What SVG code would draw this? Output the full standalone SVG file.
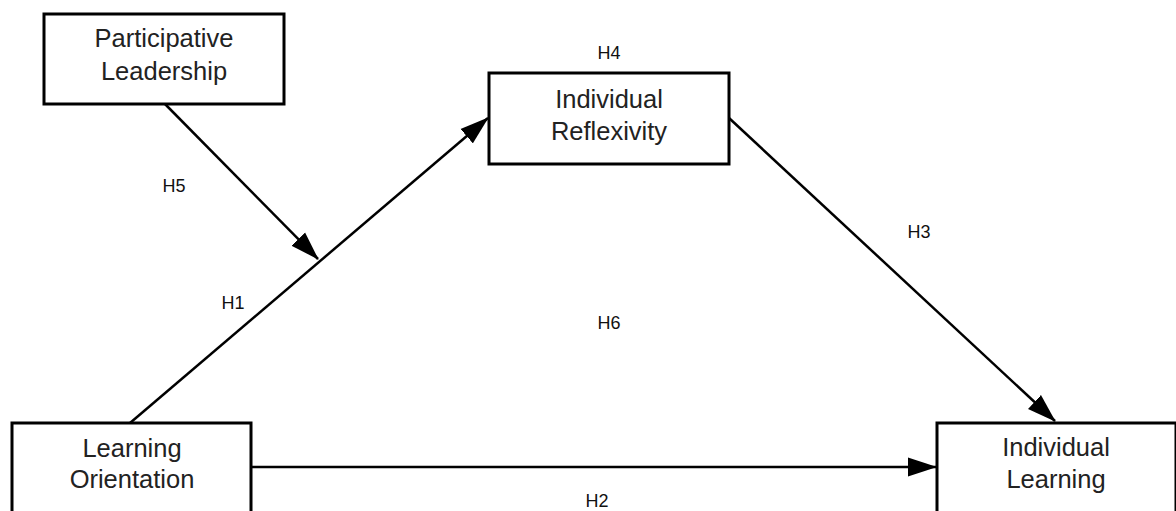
<svg xmlns="http://www.w3.org/2000/svg" width="1176" height="511" viewBox="0 0 1176 511">
<style>
.box{fill:#fff;stroke:#000;stroke-width:3}
.t{font-family:"Liberation Sans",Arial,sans-serif;font-size:25.5px;fill:#222;text-anchor:middle}
.h{font-family:"Liberation Sans",Arial,sans-serif;font-size:18px;fill:#111;text-anchor:middle}
.c{stroke:#000;stroke-width:2.5;fill:none;marker-end:url(#ah)}
</style>
<defs>
<marker id="ah" markerUnits="userSpaceOnUse" markerWidth="29" markerHeight="20" viewBox="0 0 29 20" refX="28" refY="10" orient="auto">
<path d="M0,0.5 L29,10 L0,19.5 z" fill="#000"/>
</marker>
</defs>
<rect width="1176" height="511" fill="#fff"/>
<g id="connectors">
<line class="c" x1="165" y1="104" x2="318" y2="259"/>
<line class="c" x1="130" y1="423" x2="488" y2="118"/>
<line class="c" x1="729" y1="118" x2="1055" y2="421"/>
<line class="c" x1="251" y1="467" x2="936" y2="467"/>
</g>
<g id="participative-leadership">
<rect class="box" x="44" y="14" width="240" height="90"/>
<text class="t" x="164" y="47">Participative</text>
<text class="t" x="164" y="80">Leadership</text>
</g>
<g id="individual-reflexivity">
<rect class="box" x="489" y="73" width="240" height="91"/>
<text class="t" x="609" y="108">Individual</text>
<text class="t" x="609" y="140">Reflexivity</text>
</g>
<g id="learning-orientation">
<rect class="box" x="12" y="423" width="239" height="92"/>
<text class="t" x="132" y="457">Learning</text>
<text class="t" x="132" y="488">Orientation</text>
</g>
<g id="individual-learning">
<rect class="box" x="937" y="423" width="239" height="92"/>
<text class="t" x="1056" y="456">Individual</text>
<text class="t" x="1056" y="488">Learning</text>
</g>
<g id="labels">
<text class="h" x="609" y="59">H4</text>
<text class="h" x="174" y="192">H5</text>
<text class="h" x="233" y="309">H1</text>
<text class="h" x="609" y="329">H6</text>
<text class="h" x="919" y="238">H3</text>
<text class="h" x="597" y="507">H2</text>
</g>
</svg>
